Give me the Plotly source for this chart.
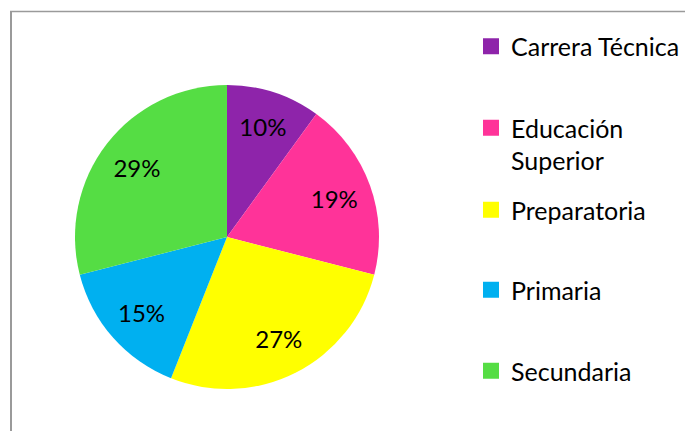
import plotly.graph_objects as go

# Data
categories = ["Carrera Técnica", "Educación Superior", "Preparatoria", "Primaria", "Secundaria"]
legend_labels = ["Carrera Técnica", "Educación<br>Superior", "Preparatoria", "Primaria", "Secundaria"]
values = [10, 19, 27, 15, 29]
colors = ["#8E24AA", "#FF3399", "#FFFF00", "#00B0F0", "#55DD44"]

# The page body adds an 8px offset; the figure is sized to fill the window.
OFF = 8
W, H = 693 - OFF, 431 - OFF
FONT = "Lato"


def px(x):
    return (x - OFF) / W


def py(y):
    return 1 - (y - OFF) / H


pie_domain = dict(x=[px(75), px(379)], y=[py(389), py(85)])

fig = go.Figure()

# Coloured slices
fig.add_trace(go.Pie(
    labels=categories,
    values=values,
    marker=dict(colors=colors, line=dict(width=0)),
    sort=False,
    direction="clockwise",
    rotation=0,
    textinfo="none",
    showlegend=False,
    domain=pie_domain,
    hoverinfo="label+percent",
))

# Transparent ring on top, only used to place the percentage labels
fig.add_trace(go.Pie(
    labels=categories,
    values=values,
    hole=0.5,
    marker=dict(colors=["rgba(0,0,0,0)"] * len(values), line=dict(width=0)),
    sort=False,
    direction="clockwise",
    rotation=0,
    texttemplate="%{percent:.0%}",
    textposition="inside",
    insidetextorientation="horizontal",
    textfont=dict(family=FONT, size=24, color="black"),
    showlegend=False,
    domain=pie_domain,
    hoverinfo="skip",
))

# Legend entries (one legend per entry to reproduce the even spacing)
legend_centers = [46.5, 144, 210, 290, 371]
layout_legends = {}
for i, (lab, col) in enumerate(zip(legend_labels, colors)):
    key = "legend" if i == 0 else f"legend{i + 1}"
    fig.add_trace(go.Scatter(
        x=[None], y=[None], mode="markers", name=lab,
        marker=dict(symbol="square", size=16, color=col),
        showlegend=True, legend=key,
    ))
    layout_legends[key] = dict(
        x=px(471), xanchor="left",
        y=py(legend_centers[i]), yanchor="middle",
        bgcolor="rgba(0,0,0,0)",
        font=dict(family=FONT, size=25, color="black"),
        valign="top",
        itemclick=False, itemdoubleclick=False,
    )

fig.update_layout(
    width=W, height=H,
    margin=dict(l=0, r=0, t=0, b=0),
    paper_bgcolor="white",
    plot_bgcolor="white",
    xaxis=dict(visible=False),
    yaxis=dict(visible=False),
    shapes=[
        dict(type="line", xref="paper", yref="paper",
             x0=px(10), x1=1.01, y0=py(11.5), y1=py(11.5),
             line=dict(color="#9A9A9A", width=1.5)),
        dict(type="line", xref="paper", yref="paper",
             x0=px(11), x1=px(11), y0=py(11.5), y1=-0.01,
             line=dict(color="#9A9A9A", width=2)),
    ],
    **layout_legends,
)

fig.write_html("out.html")
